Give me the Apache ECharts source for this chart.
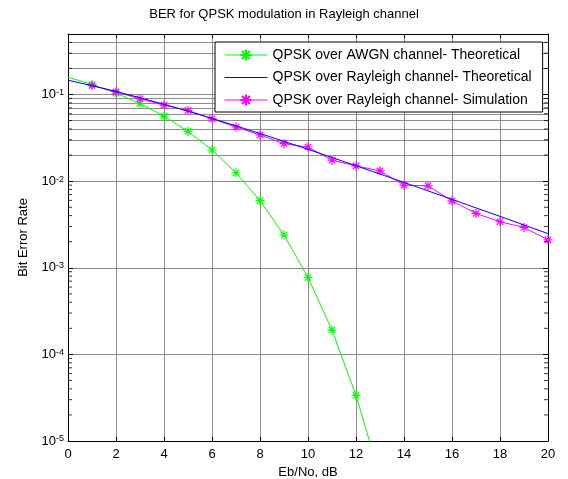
<!DOCTYPE html>
<html><head><meta charset="utf-8">
<script src="https://cdn.jsdelivr.net/npm/echarts@6/dist/echarts.min.js"></script>
<style>html,body{margin:0;padding:0;background:#fff}#c{width:568px;height:479px}</style>
</head><body><div id="c"></div>
<script>
// ---- data ----
const awgnX = [0,1,2,3,4,5,6,7,8,9,10,11,12,13];
const awgnTheory = [0.1587,0.1306,0.1040,0.0786,0.0563,0.0375,0.0229,0.0125,0.00595,0.00239,0.000773,0.000191,0.0000336,0.00000387];
const rayX = [0,1,2,3,4,5,6,7,8,9,10,11,12,13,14,15,16,17,18,19,20];
const rayTheory = [0.1464,0.1267,0.1085,0.0919,0.0771,0.0642,0.0530,0.0435,0.0355,0.0288,0.0233,0.01875,0.01506,0.01208,0.00967,0.00772,0.00617,0.00491,0.00392,0.00312,0.00248];
const simX = [1,2,3,4,5,6,7,8,9,10,11,12,13,14,15,16,17,18,19,20];
const raySim = [0.1273,0.1074,0.0893,0.0755,0.0656,0.0525,0.0422,0.0341,0.0271,0.0248,0.01745,0.0150,0.01315,0.00899,0.00883,0.00593,0.00424,0.00340,0.00292,0.00210];
const xTickLabels = [0,2,4,6,8,10,12,14,16,18,20];
const yDecades = [-5,-4,-3,-2,-1];
const seriesNames = ['QPSK over AWGN channel- Theoretical','QPSK over Rayleigh channel- Theoretical','QPSK over Rayleigh channel- Simulation'];
const seriesColors = ['#00ff00', '#0000ff', '#ff00ff'];
const yMin = 1e-5, yMax = 0.5, xMin = 0, xMax = 20;

// minor (2..9 x 10^n) tick / grid values
const minorVals = [];
yDecades.forEach(function(d){ for (let k=2;k<=9;k++){ const v=k*Math.pow(10,d); if (v<yMax) minorVals.push(+v.toPrecision(3)); } });

const FONT = 'Liberation Sans, Arial, sans-serif';
const star = 'path://M5 0L5 10M0 5L10 5M1.5 1.5L8.5 8.5M1.5 8.5L8.5 1.5';
const GRID = '#8c8c8c';

function pairs(xs, ys){ return xs.map(function(x,i){ return [x, ys[i]]; }); }

const greenData = pairs(awgnX, awgnTheory).map(function(p,i){ return i===0 ? {value:p, symbol:'none'} : p; });

const chart = echarts.init(document.getElementById('c'), null, {renderer:'canvas'});
chart.setOption({
  animation: false,
  backgroundColor: '#fff',
  textStyle: {fontFamily: FONT},
  title: {text: 'BER for QPSK modulation in Rayleigh channel', left: 'center', top: 8, padding: 0,
    textStyle: {fontSize: 13, fontWeight: 'normal', color: '#000', fontFamily: FONT}},
  grid: {left: 68, right: 20, top: 34, bottom: 38, outerBoundsMode: 'none', containLabel: false},
  legend: {
    orient: 'vertical', left: 215, top: 42, z: 50,
    padding: [6, 11, 5, 9], itemGap: 8.5, itemWidth: 43, itemHeight: 14,
    backgroundColor: '#fff', borderColor: '#000', borderWidth: 1, borderRadius: 0,
    textStyle: {fontSize: 14, color: '#000', fontFamily: FONT},
    data: [
      {name: seriesNames[0], lineStyle: {color: seriesColors[0], width: 1}},
      {name: seriesNames[1], lineStyle: {color: seriesColors[1], width: 1},
        itemStyle: {color: 'rgba(0,0,0,0)', borderColor: 'rgba(0,0,0,0)', borderWidth: 0, opacity: 0}},
      {name: seriesNames[2], lineStyle: {color: seriesColors[2], width: 1}}
    ]
  },
  xAxis: [{
    type: 'value', min: xMin, max: xMax, interval: 2, position: 'bottom',
    name: 'Eb/No, dB', nameLocation: 'middle', nameGap: 24,
    nameTextStyle: {fontSize: 13, color: '#000', fontFamily: FONT},
    axisLine: {show: true, onZero: false, lineStyle: {color: '#000', width: 1}},
    axisTick: {show: true, inside: true, length: 4, lineStyle: {color: '#000'}},
    axisLabel: {show: true, margin: 7, fontSize: 13, color: '#000', fontFamily: FONT,
      formatter: function(v){ return xTickLabels.indexOf(v) >= 0 ? String(v) : ''; }},
    splitLine: {show: true, lineStyle: {color: GRID, width: 1}}
  }, {
    type: 'value', min: xMin, max: xMax, interval: 2, position: 'top',
    axisLine: {show: true, onZero: false, lineStyle: {color: '#000', width: 1}},
    axisTick: {show: true, inside: true, length: 4, lineStyle: {color: '#000'}},
    axisLabel: {show: false}, splitLine: {show: false}
  }],
  yAxis: [{
    type: 'log', logBase: 10, min: yMin, max: yMax, position: 'left',
    name: 'Bit Error Rate', nameLocation: 'middle', nameGap: 38, nameRotate: 90,
    nameTextStyle: {fontSize: 13, color: '#000', fontFamily: FONT},
    axisLine: {show: true, onZero: false, lineStyle: {color: '#000', width: 1}},
    axisTick: {show: true, inside: true, length: 5, lineStyle: {color: '#000'}},
    axisLabel: {show: true, margin: 4, color: '#000', fontFamily: FONT,
      formatter: function(v){
        const e = Math.round(Math.log10(v));
        if (Math.abs(Math.log10(v) - e) > 1e-6 || yDecades.indexOf(e) < 0) return '';
        return '{b|10}{s|' + e + '}';
      },
      rich: {
        b: {fontSize: 13, lineHeight: 13, padding: [6,0,0,0], verticalAlign: 'bottom', color: '#000', fontFamily: FONT},
        s: {fontSize: 9, lineHeight: 9, verticalAlign: 'top', color: '#000', fontFamily: FONT}
      }},
    splitLine: {show: true, lineStyle: {color: GRID, width: 1}}
  }, {
    type: 'log', logBase: 10, min: yMin, max: yMax, position: 'right',
    axisLine: {show: true, onZero: false, lineStyle: {color: '#000', width: 1}},
    axisTick: {show: true, inside: true, length: 5, lineStyle: {color: '#000'}},
    axisLabel: {show: false}, splitLine: {show: false}
  }],
  series: [
    {
      name: 'minorGrid', type: 'line', data: [], z: 0, silent: true,
      markLine: {silent: true, symbol: ['none','none'], label: {show: false}, animation: false, z: 0,
        lineStyle: {color: GRID, width: 1, type: 'solid'},
        data: minorVals.map(function(v){ return {yAxis: v}; })}
    },
    {
      name: 'minorTicksL', type: 'scatter', silent: true, clip: false, z: 5,
      symbol: 'rect', symbolSize: [4, 1], symbolOffset: [2, 0],
      itemStyle: {color: '#000'},
      data: minorVals.map(function(v){ return [xMin, v]; })
    },
    {
      name: 'minorTicksR', type: 'scatter', silent: true, clip: false, z: 5,
      symbol: 'rect', symbolSize: [4, 1], symbolOffset: [-2, 0],
      itemStyle: {color: '#000'},
      data: minorVals.map(function(v){ return [xMax, v]; })
    },
    {
      name: seriesNames[0], type: 'line', data: greenData, z: 2,
      symbol: star, symbolSize: 9, showSymbol: true,
      lineStyle: {color: seriesColors[0], width: 1},
      itemStyle: {color: seriesColors[0], borderColor: seriesColors[0], borderWidth: 1.2}
    },
    {
      name: seriesNames[2], type: 'line', data: pairs(simX, raySim), z: 3,
      symbol: star, symbolSize: 9, showSymbol: true,
      lineStyle: {color: seriesColors[2], width: 1},
      itemStyle: {color: seriesColors[2], borderColor: seriesColors[2], borderWidth: 1.2}
    },
    {
      name: seriesNames[1], type: 'line', data: pairs(rayX, rayTheory), z: 4,
      symbol: 'none', showSymbol: false,
      lineStyle: {color: seriesColors[1], width: 1},
      itemStyle: {color: seriesColors[1]}
    }
  ]
});
</script>
</body></html>
